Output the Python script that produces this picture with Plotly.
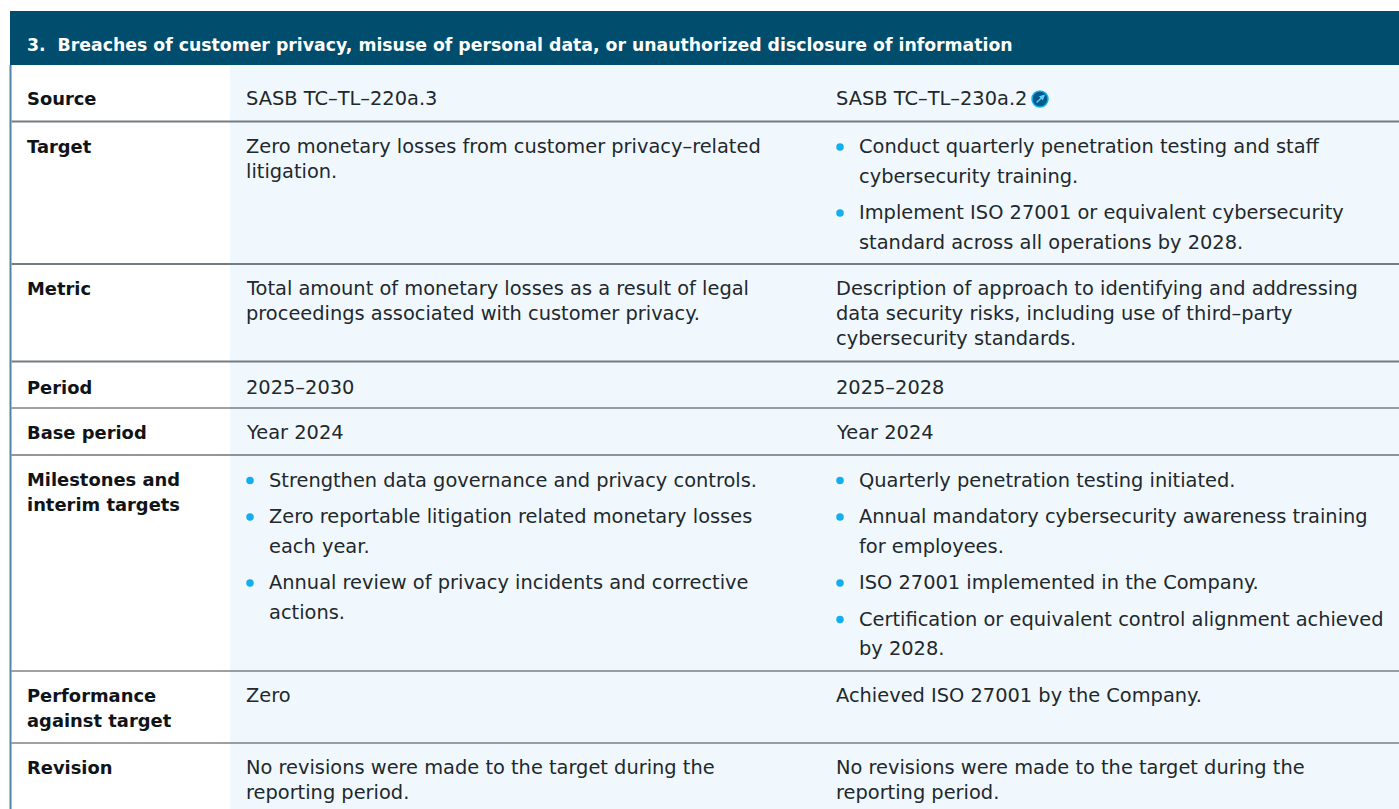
import plotly.graph_objects as go

title = "3.  Breaches of customer privacy, misuse of personal data, or unauthorized disclosure of information"
row_labels = [
    ["Source"], ["Target"], ["Metric"], ["Period"], ["Base period"],
    ["Milestones and", "interim targets"], ["Performance", "against target"], ["Revision"],
]
left_cells = [
    [["SASB TC–TL–220a.3"]],
    [["Zero monetary losses from customer privacy–related", "litigation."]],
    [["Total amount of monetary losses as a result of legal", "proceedings associated with customer privacy."]],
    [["2025–2030"]],
    [["Year 2024"]],
    [["Strengthen data governance and privacy controls."],
     ["Zero reportable litigation related monetary losses", "each year."],
     ["Annual review of privacy incidents and corrective", "actions."]],
    [["Zero"]],
    [["No revisions were made to the target during the", "reporting period."]],
]
right_cells = [
    [["SASB TC–TL–230a.2"]],
    [["Conduct quarterly penetration testing and staff", "cybersecurity training."],
     ["Implement ISO 27001 or equivalent cybersecurity", "standard across all operations by 2028."]],
    [["Description of approach to identifying and addressing", "data security risks, including use of third–party", "cybersecurity standards."]],
    [["2025–2028"]],
    [["Year 2024"]],
    [["Quarterly penetration testing initiated."],
     ["Annual mandatory cybersecurity awareness training", "for employees."],
     ["ISO 27001 implemented in the Company."],
     ["Certification or equivalent control alignment achieved", "by 2028."]],
    [["Achieved ISO 27001 by the Company."]],
    [["No revisions were made to the target during the", "reporting period."]],
]
left_bulleted = [False, False, False, False, False, True, False, False]
right_bulleted = [False, True, False, False, False, True, False, False]

# Layout (pixels in the 1399x809 page)
W, H = 1399, 809
EDGES = [65, 121.5, 264, 361.5, 408, 455, 671, 743, 809]
FIRST = [33, 24.5, 24, 25.5, 24, 24.5, 24, 24]
SEP = [(2, "#757d82"), (2, "#757d82"), (2, "#757d82"), (1, "#3c4448"), (1, "#2a3034"), (1, "#3c4448"), (1, "#3c4448")]
X_LABEL, X_LEFT, X_RIGHT = 25, 244, 834
BODY = "DejaVu Sans"
BODY_SIZE = 19.4
LABEL_SIZE = 17.9
TITLE_SIZE = 17.3
INK = "#22282c"
BULLET = "#12aef0"

fig = go.Figure()
shapes, notes = [], []
bx, by = [], []


def text(x, y, s, size=BODY_SIZE, color=INK, family=BODY, bold=False):
    notes.append(dict(x=x, y=y, xref="x", yref="y", text=f"<b>{s}</b>" if bold else s, showarrow=False,
                      xanchor="left", yanchor="middle", align="left",
                      font=dict(family=family, size=size, color=color)))


def cell(paras, x, top, bulleted):
    y = top
    for p in paras:
        for i, line in enumerate(p):
            if bulleted:
                if i == 0:
                    bx.append(x + 6)
                    by.append(y + 1)
                text(x + 23, y + 0.5, line)
            else:
                text(x, y + 0.5, line)
            if i < len(p) - 1:
                y += 29.5 if bulleted else 25
        y += 36.5


shapes.append(dict(type="rect", x0=230, x1=W, y0=EDGES[0], y1=H, fillcolor="#f0f8fe", line_width=0, layer="below"))
shapes.append(dict(type="rect", x0=10, x1=W, y0=11, y1=EDGES[0], fillcolor="#004d6d", line_width=0, layer="below"))
shapes.append(dict(type="rect", x0=9.5, x1=11.5, y0=EDGES[0], y1=H, fillcolor="#4f84a3", line_width=0, layer="below"))
for e, (w, c) in zip(EDGES[1:-1], SEP):
    shapes.append(dict(type="line", x0=11.5, x1=W, y0=e, y1=e, line=dict(color=c, width=w)))

text(X_LABEL, 44.5, title, size=TITLE_SIZE, color="#ffffff", bold=True)
for r, label in enumerate(row_labels):
    top = EDGES[r] + FIRST[r]
    for j, line in enumerate(label):
        text(X_LABEL, top + j * 25, line, size=LABEL_SIZE, color="#101417", bold=True)
    cell(left_cells[r], X_LEFT, top, left_bulleted[r])
    cell(right_cells[r], X_RIGHT, top, right_bulleted[r])

fig.add_trace(go.Scatter(x=bx, y=by, mode="markers", hoverinfo="skip",
                         marker=dict(size=7.5, color=BULLET, line_width=0)))
# external-link icon
fig.add_trace(go.Scatter(x=[1040], y=[99], mode="markers", hoverinfo="skip",
                         marker=dict(size=16, color="#005a8c", line=dict(color=BULLET, width=1.5))))
notes.append(dict(x=1045, y=94.5, ax=1035, ay=104, xref="x", yref="y", axref="x", ayref="y", text="",
                  showarrow=True, arrowhead=2, arrowsize=0.8, arrowwidth=1.4, arrowcolor="#5fd0fa"))

fig.update_layout(
    width=W, height=H, margin=dict(l=0, r=0, t=0, b=0), showlegend=False,
    paper_bgcolor="#ffffff", plot_bgcolor="#ffffff",
    xaxis=dict(range=[0, W], visible=False, fixedrange=True),
    yaxis=dict(range=[H, 0], visible=False, fixedrange=True),
    shapes=shapes, annotations=notes,
)
fig.write_html("out.html", post_script="document.body.style.margin='0';document.body.style.overflow='hidden';",
               config={"displayModeBar": False})
